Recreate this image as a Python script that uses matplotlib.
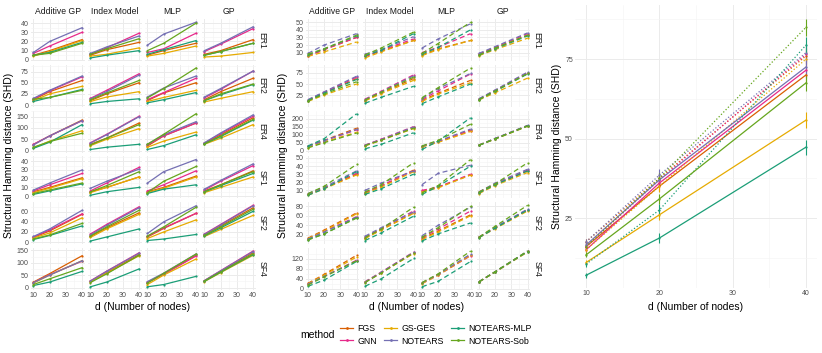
import numpy as np
import matplotlib.pyplot as plt
from matplotlib.lines import Line2D

plt.rcParams['font.family'] = ['Liberation Sans', 'DejaVu Sans']

# 方法与颜色
methods = ['FGS', 'GNN', 'GS-GES', 'NOTEARS', 'NOTEARS-MLP', 'NOTEARS-Sob']
colors = ['#D95F02', '#E7298A', '#E6AB02', '#7570B3', '#1B9E77', '#66A61E']
d_nodes = [10, 20, 40]
cols = ['Additive GP', 'Index Model', 'MLP', 'GP']
rows = ['ER1', 'ER2', 'ER4', 'SF1', 'SF2', 'SF4']

# 左图 (实线): 每个数组 [列][方法][d]
solid_ER1 = [
    [[5, 10, 22], [7, 15, 30], [4, 9, 21], [8, 20, 35], [5, 8, 19], [5, 7, 18]],
    [[5, 11, 19], [6, 13, 29], [4, 6, 13], [7, 14, 26], [2, 5, 10], [6, 12, 23]],
    [[5, 10, 18], [8, 12, 29], [4, 7, 15], [16, 28, 41], [6, 11, 21], [10, 18, 40]],
    [[6, 10, 22], [9, 17, 34], [3, 4, 8], [10, 18, 36], [5, 9, 18], [5, 9, 18]],
]
solid_ER2 = [
    [[12, 30, 55], [14, 32, 63], [10, 25, 42], [15, 33, 65], [8, 17, 35], [13, 17, 33]],
    [[10, 25, 50], [15, 33, 70], [8, 18, 30], [14, 30, 67], [3, 8, 14], [12, 27, 55]],
    [[10, 27, 50], [12, 28, 60], [8, 17, 33], [18, 38, 65], [5, 12, 28], [16, 37, 83]],
    [[12, 30, 60], [16, 35, 76], [7, 15, 30], [18, 37, 76], [10, 23, 46], [10, 25, 47]],
]
solid_ER4 = [
    [[27, 65, 135], [28, 65, 132], [12, 42, 88], [25, 65, 133], [10, 37, 115], [15, 40, 77]],
    [[28, 55, 122], [35, 72, 152], [22, 50, 97], [33, 70, 150], [5, 15, 28], [25, 55, 115]],
    [[20, 65, 122], [25, 65, 122], [15, 42, 82], [28, 70, 128], [5, 22, 70], [28, 72, 163]],
    [[32, 70, 145], [33, 75, 152], [28, 55, 115], [35, 78, 158], [30, 62, 135], [30, 65, 138]],
]
solid_SF1 = [
    [[5, 10, 21], [6, 13, 26], [4, 9, 20], [7, 15, 30], [2, 6, 14], [3, 7, 15]],
    [[5, 10, 22], [6, 15, 33], [4, 10, 22], [9, 17, 31], [1, 5, 10], [5, 12, 28]],
    [[5, 10, 23], [6, 13, 29], [4, 9, 22], [15, 28, 42], [3, 8, 13], [4, 17, 34]],
    [[6, 13, 29], [7, 17, 35], [4, 10, 22], [8, 18, 37], [5, 12, 26], [5, 13, 28]],
]
solid_SF2 = [
    [[9, 22, 55], [10, 24, 56], [8, 18, 48], [11, 26, 63], [5, 13, 32], [6, 14, 37]],
    [[11, 28, 58], [16, 35, 70], [9, 26, 55], [14, 33, 68], [2, 10, 26], [12, 30, 63]],
    [[10, 27, 57], [11, 28, 57], [7, 20, 44], [17, 40, 72], [3, 6, 15], [12, 30, 69]],
    [[14, 32, 68], [16, 35, 73], [11, 25, 53], [15, 34, 72], [12, 28, 61], [13, 30, 65]],
]
solid_SF4 = [
    [[22, 56, 128], [20, 52, 106], [18, 50, 108], [20, 50, 108], [8, 22, 65], [12, 35, 80]],
    [[25, 60, 133], [27, 66, 140], [23, 58, 128], [26, 65, 138], [3, 22, 75], [20, 55, 130]],
    [[20, 55, 130], [22, 53, 127], [12, 50, 115], [24, 58, 135], [3, 12, 45], [18, 57, 135]],
    [[27, 65, 140], [28, 68, 147], [24, 60, 130], [28, 67, 145], [25, 62, 133], [26, 63, 135]],
]

# 中图 (虚线)
dashed_ER1 = [
    [[6, 14, 30], [5, 14, 30], [5, 11, 24], [9, 20, 35], [7, 15, 32], [8, 15, 33]],
    [[5, 12, 26], [5, 13, 28], [3, 11, 26], [8, 14, 31], [6, 13, 35], [7, 16, 37]],
    [[7, 15, 26], [10, 17, 35], [6, 14, 26], [16, 28, 48], [8, 17, 40], [9, 22, 50]],
    [[8, 16, 33], [8, 17, 35], [6, 14, 29], [9, 18, 36], [7, 15, 32], [7, 16, 33]],
]
dashed_ER2 = [
    [[14, 31, 62], [15, 32, 65], [12, 26, 50], [16, 33, 67], [14, 30, 60], [13, 28, 55]],
    [[14, 30, 62], [17, 34, 70], [13, 29, 58], [16, 33, 68], [8, 21, 45], [15, 32, 65]],
    [[14, 30, 58], [16, 35, 72], [12, 28, 53], [18, 40, 73], [7, 22, 50], [20, 42, 85]],
    [[17, 35, 73], [17, 36, 75], [15, 31, 63], [18, 37, 76], [16, 34, 72], [16, 35, 73]],
]
dashed_ER4 = [
    [[28, 65, 140], [28, 62, 130], [20, 55, 115], [27, 63, 133], [30, 75, 230], [18, 50, 110]],
    [[33, 68, 145], [35, 72, 150], [30, 65, 138], [34, 70, 148], [12, 40, 112], [32, 66, 140]],
    [[25, 55, 130], [27, 58, 125], [25, 52, 120], [28, 60, 135], [8, 60, 205], [30, 65, 165]],
    [[35, 75, 155], [35, 76, 156], [34, 72, 152], [36, 77, 158], [34, 74, 154], [35, 75, 155]],
]
dashed_SF1 = [
    [[5, 13, 30], [5, 13, 31], [4, 12, 29], [6, 14, 34], [4, 12, 33], [6, 15, 42]],
    [[7, 15, 35], [7, 16, 34], [6, 14, 33], [10, 19, 34], [5, 12, 30], [8, 17, 44]],
    [[9, 14, 29], [10, 14, 30], [8, 13, 29], [17, 31, 41], [5, 15, 40], [7, 16, 48]],
    [[7, 17, 34], [8, 18, 35], [6, 16, 32], [8, 19, 36], [7, 17, 34], [8, 18, 44]],
]
dashed_SF2 = [
    [[13, 30, 66], [11, 27, 58], [12, 28, 64], [11, 26, 57], [10, 22, 56], [9, 22, 55]],
    [[13, 31, 66], [15, 33, 70], [12, 30, 65], [17, 35, 68], [8, 24, 59], [14, 32, 78]],
    [[12, 28, 62], [14, 32, 70], [10, 26, 60], [18, 40, 78], [7, 22, 45], [15, 35, 80]],
    [[15, 35, 72], [15, 35, 73], [14, 33, 70], [15, 36, 74], [14, 34, 72], [15, 38, 82]],
]
dashed_SF4 = [
    [[22, 58, 135], [20, 50, 115], [20, 55, 128], [18, 50, 112], [10, 35, 110], [15, 48, 113]],
    [[27, 65, 145], [28, 67, 148], [26, 64, 142], [27, 66, 147], [10, 40, 122], [25, 63, 145]],
    [[23, 57, 137], [22, 55, 133], [20, 55, 135], [24, 58, 140], [8, 30, 110], [25, 60, 152]],
    [[28, 68, 150], [28, 68, 151], [27, 67, 148], [28, 69, 152], [28, 68, 150], [28, 69, 152]],
]

solid_yticks = [[0, 10, 20, 30, 40], [0, 25, 50, 75], [0, 50, 100, 150],
                [0, 10, 20, 30, 40], [0, 20, 40, 60], [0, 50, 100, 150]]
dashed_yticks = [[10, 20, 30, 40, 50], [25, 50, 75], [0, 50, 100, 150, 200],
                 [10, 20, 30, 40, 50], [20, 40, 60, 80], [0, 40, 80, 120]]

# 右图 (均值 + 误差)
avg_solid = [[16, 35, 70], [15, 36, 71.5], [11, 26, 55.8], [16.5, 37, 72.5], [7, 18.7, 47.3], [13.4, 31, 67.5]]
avg_dotted = [[17.5, 37.5, 76], [16, 37, 76.5], [15, 35, 75], [17.5, 38.5, 77], [10.5, 27.5, 79.4], [16, 37.5, 85]]
err_solid = [[0.8, 1.5, 2.4], [0.8, 1.5, 2.4], [0.8, 1.5, 2.4], [0.8, 1.5, 2.4], [0.8, 1.5, 2.4], [0.8, 1.5, 2.4]]
err_dotted = [[0.8, 1.8, 2.6], [0.8, 1.8, 2.6], [0.8, 1.8, 2.6], [0.8, 2.0, 2.6], [0.8, 1.8, 2.6], [0.8, 1.8, 2.6]]

W, H = 822, 353
fig = plt.figure(figsize=(W / 100, H / 100), dpi=100)
fig.patch.set_facecolor('white')

GRID = '#EBEBEB'
TXT = '#4D4D4D'


def px_axes(x0, y0, w, h):
    return fig.add_axes([x0 / W, 1 - (y0 + h) / H, w / W, h / H])


def style(ax, xticks, yticks, show_x, show_y, fs=5.5):
    for s in ax.spines.values():
        s.set_visible(False)
    ax.set_xticks(xticks)
    ax.set_xticks([(a + b) / 2 for a, b in zip(xticks[:-1], xticks[1:])], minor=True)
    step = yticks[1] - yticks[0]
    ax.set_yticks(yticks)
    ax.set_yticks([yticks[0] - step / 2] + [t + step / 2 for t in yticks], minor=True)
    ax.grid(True, which='major', color=GRID, lw=0.7)
    ax.grid(True, which='minor', color='#F4F4F4', lw=0.4)
    ax.set_axisbelow(True)
    ax.tick_params(which='both', length=0, labelsize=fs, labelcolor=TXT, pad=1.5)
    if not show_x:
        ax.set_xticklabels([])
    if not show_y:
        ax.set_yticklabels([])


def facet_grid(datasets, yticks, x0, ls, strip_x):
    top, bottom = 19, 290
    gap = 3.6
    h = (bottom - top - 5 * gap) / 6
    w, step = 53.5, 57
    for r in range(6):
        data = np.array(datasets[r], dtype=float)
        lo, hi = data.min(), data.max()
        pad = (hi - lo) * 0.09
        for c in range(4):
            ax = px_axes(x0 + c * step, top + r * (h + gap), w, h)
            for m in range(6):
                ax.plot(d_nodes, data[c, m], color=colors[m], lw=0.9, ls=ls,
                        marker='o', ms=1.6, mew=0)
            style(ax, [10, 20, 30, 40], yticks[r], r == 5, c == 0, fs=5.1)
            ax.set_xlim(8.5, 41.5)
            ax.set_ylim(lo - pad, hi + pad)
            if r == 0:
                fig.text((x0 + c * step + w / 2) / W, 1 - 12 / H, cols[c],
                         ha='center', va='center', fontsize=6.2, color='#1A1A1A')
            if c == 3:
                fig.text(strip_x / W, 1 - (top + r * (h + gap) + h / 2) / H, rows[r],
                         ha='center', va='center', rotation=-90, fontsize=6.2, color='#1A1A1A')


facet_grid([solid_ER1, solid_ER2, solid_ER4, solid_SF1, solid_SF2, solid_SF4],
           solid_yticks, 31, '-', 262)
facet_grid([dashed_ER1, dashed_ER2, dashed_ER4, dashed_SF1, dashed_SF2, dashed_SF4],
           dashed_yticks, 305.5, (0, (4, 2.5)), 537)

# 右图
ax = px_axes(575, 5, 242, 283)
for m in range(6):
    ax.errorbar(d_nodes, avg_solid[m], yerr=err_solid[m], color=colors[m], lw=0.9,
                marker='o', ms=1.6, mew=0, elinewidth=0.8, capsize=0)
    ax.errorbar(d_nodes, avg_dotted[m], yerr=err_dotted[m], color=colors[m], lw=0.9,
                ls=':', marker='o', ms=1.6, mew=0, elinewidth=0.8, capsize=0)
style(ax, [10, 20, 30, 40], [25, 50, 75], True, True, fs=5)
ax.set_xlim(8.5, 41.5)
ax.set_ylim(3, 92)

# 轴标题
ylab = 'Structural Hamming distance (SHD)'
fig.text(9 / W, 1 - 155 / H, ylab, rotation=90, ha='center', va='center', fontsize=7.5)
fig.text(283 / W, 1 - 155 / H, ylab, rotation=90, ha='center', va='center', fontsize=7.5)
fig.text(557 / W, 1 - 146 / H, ylab, rotation=90, ha='center', va='center', fontsize=7.5)
xlab = 'd (Number of nodes)'
fig.text(143 / W, 1 - 307 / H, xlab, ha='center', va='center', fontsize=7.5)
fig.text(417 / W, 1 - 307 / H, xlab, ha='center', va='center', fontsize=7.5)
fig.text(696 / W, 1 - 307 / H, xlab, ha='center', va='center', fontsize=7.5)

# 图例
handles = [Line2D([0], [0], color=colors[m], lw=0.9, marker='o', ms=2, mew=0) for m in range(6)]
fig.text(318 / W, 1 - 335 / H, 'method', ha='center', va='center', fontsize=7.5)
fig.legend(handles, methods, ncol=3, loc='center left', bbox_to_anchor=(340 / W, 1 - 335 / H),
           frameon=False, fontsize=6.3, handlelength=1.5, handletextpad=0.5,
           columnspacing=0.8, labelspacing=0.35, borderpad=0, borderaxespad=0)

fig.savefig('out.png', dpi=100, facecolor='white')
